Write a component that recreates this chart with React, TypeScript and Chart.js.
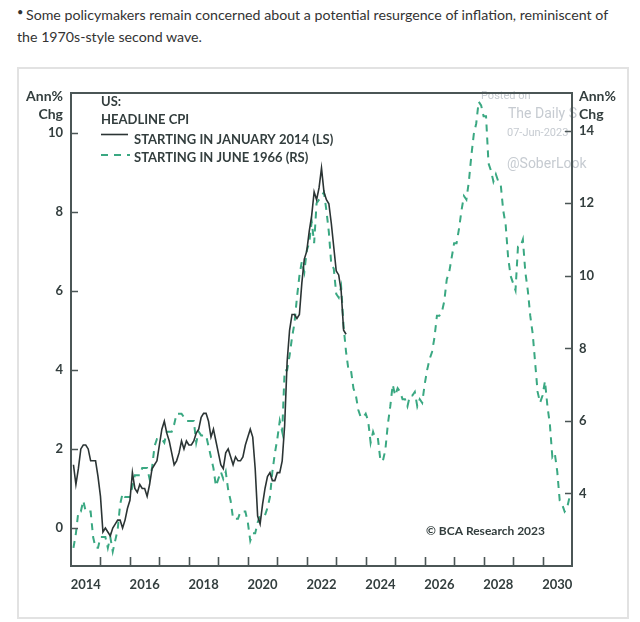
import React, { useEffect, useRef } from "react";
import { Chart, registerables } from "chart.js";

Chart.register(...registerables);

// ---------- DATA ----------
// US headline CPI, annual % change, monthly, starting January 2014 (left scale)
const cpiFrom2014: number[] = [
  1.6, 1.1, 1.5, 2.0, 2.1, 2.1, 2.0, 1.7, 1.7, 1.7, 1.3, 0.8,
  -0.1, 0.0, -0.1, -0.2, 0.0, 0.1, 0.2, 0.2, 0.0, 0.2, 0.5, 0.7,
  1.4, 1.0, 0.9, 1.1, 1.0, 1.0, 0.8, 1.1, 1.5, 1.6, 1.7, 2.1,
  2.5, 2.7, 2.4, 2.2, 1.9, 1.6, 1.7, 1.9, 2.2, 2.0, 2.2, 2.1,
  2.1, 2.2, 2.4, 2.5, 2.8, 2.9, 2.9, 2.7, 2.3, 2.5, 2.2, 1.9,
  1.6, 1.5, 1.9, 2.0, 1.8, 1.6, 1.8, 1.7, 1.7, 1.8, 2.1, 2.3,
  2.5, 2.3, 1.5, 0.3, 0.1, 0.6, 1.0, 1.3, 1.4, 1.2, 1.2, 1.4,
  1.4, 1.7, 2.6, 4.2, 5.0, 5.4, 5.4, 5.3, 5.4, 6.2, 6.8, 7.0,
  7.5, 7.9, 8.5, 8.3, 8.6, 9.1, 8.5, 8.3, 8.2, 7.7, 7.1, 6.5,
  6.4, 6.0, 5.0, 4.9,
];

// US headline CPI, annual % change, monthly, starting June 1966 (right scale)
const cpiFrom1966: number[] = [
  2.5, 2.9, 3.5, 3.5, 3.8, 3.5, 3.5,
  3.5, 2.8, 2.5, 2.5, 2.8, 2.8, 2.8, 2.5, 2.8, 2.4, 2.7, 3.0,
  3.7, 4.0, 3.9, 3.9, 3.9, 4.2, 4.5, 4.5, 4.5, 4.7, 4.7, 4.7,
  4.4, 4.7, 5.3, 5.5, 5.5, 5.5, 5.4, 5.7, 5.7, 5.7, 5.9, 6.2,
  6.2, 6.2, 6.1, 6.0, 6.0, 6.0, 6.0, 5.4, 5.7, 5.6, 5.6, 5.6,
  5.3, 5.0, 4.7, 4.2, 4.4, 4.6, 4.4, 4.6, 4.1, 3.8, 3.3, 3.3,
  3.3, 3.5, 3.5, 3.5, 3.2, 2.7, 2.9, 2.9, 3.2, 3.4, 3.4, 3.4,
  3.6, 3.9, 4.6, 5.1, 5.5, 6.0, 5.7, 7.4, 7.4, 7.8, 8.3, 8.7,
  9.4, 10.0, 10.4, 10.1, 10.7, 10.9, 11.5, 10.9, 12.0, 12.1, 12.2, 12.3,
  11.8, 11.2, 10.3, 10.2, 9.5, 9.4, 9.7, 8.6, 7.9, 7.4, 7.4, 6.9,
  6.7, 6.3, 6.1, 6.1, 6.2, 6.0, 5.4, 5.7, 5.5, 5.5, 4.9, 4.9,
  5.2, 5.9, 6.4, 7.0, 6.7, 6.9, 6.8, 6.6, 6.6, 6.4, 6.7, 6.7,
  6.8, 6.4, 6.6, 6.5, 7.0, 7.4, 7.7, 7.9, 8.3, 8.9, 8.9, 9.0,
  9.3, 9.9, 10.1, 10.5, 10.9, 10.9, 11.3, 11.8, 12.2, 12.1, 12.6, 13.3,
  13.9, 14.2, 14.8, 14.7, 14.4, 14.4, 13.1, 12.9, 12.6, 12.8, 12.6, 12.5,
  11.8, 11.4, 10.5, 10.0, 9.8, 9.6, 10.8, 10.8, 11.0, 10.1, 9.6, 8.9,
  8.4, 7.6, 6.8, 6.5, 6.7, 7.1, 6.4, 5.9, 5.0, 5.1, 4.6, 3.8,
  3.7, 3.5, 3.6, 3.9,
];

const startYear = 2014;
const endYear = 2031;
const leftTicks = [0, 2, 4, 6, 8, 10];
const rightTicks = [4, 6, 8, 10, 12, 14];
const xLabelYears = [2014, 2016, 2018, 2020, 2022, 2024, 2026, 2028, 2030];
const xTickYears = [2015, 2016, 2017, 2018, 2019, 2020, 2021, 2022, 2023, 2024, 2025, 2026, 2027, 2028, 2029, 2030];

const legendTitle = ["US:", "HEADLINE CPI"];
const seriesNames = ["STARTING IN JANUARY 2014 (LS)", "STARTING IN JUNE 1966 (RS)"];

// ---------- STYLE ----------
const AXIS = "#4b5656";
const TEXT = "#333e3e";
const GREEN = "#3aa882";
const BLACK = "#2b3434";
const WATERMARK = "#c6cbd1";
const CHART_FONT = "Lato, 'Open Sans', sans-serif";

const toPoints = (vals: number[]) =>
  vals.map((v, i) => ({ x: startYear + (i + 1) / 12, y: v }));

const overlayPlugin = {
  id: "overlay",
  beforeDatasetsDraw(chart: any) {
    const ctx = chart.ctx as CanvasRenderingContext2D;
    ctx.save();
    ctx.fillStyle = WATERMARK;
    ctx.textBaseline = "middle";
    ctx.textAlign = "left";
    ctx.font = `11px Roboto, Arial, sans-serif`;
    ctx.fillText("Posted on", 481, 96);
    ctx.fillText("07-Jun-2023", 507, 133);
    ctx.font = `14px Roboto, Arial, sans-serif`;
    ctx.save();
    ctx.beginPath();
    ctx.rect(480, 100, 97, 30);
    ctx.clip();
    ctx.fillText("The Daily Shot", 508, 114);
    ctx.restore();
    ctx.fillText("@SoberLook", 507, 164);
    ctx.restore();
  },
  afterDatasetsDraw(chart: any) {
    const ctx = chart.ctx as CanvasRenderingContext2D;
    const { left, right, top, bottom } = chart.chartArea;
    const sx = chart.scales.x;
    const sy = chart.scales.y;
    const sy1 = chart.scales.y1;
    ctx.save();
    // frame
    ctx.strokeStyle = AXIS;
    ctx.lineWidth = 2;
    ctx.strokeRect(left, top, right - left, bottom - top);
    // inward ticks
    ctx.lineWidth = 1.6;
    ctx.beginPath();
    leftTicks.forEach((v) => {
      const y = Math.round(sy.getPixelForValue(v)) + 0.5;
      ctx.moveTo(left, y);
      ctx.lineTo(left + 7, y);
    });
    rightTicks.forEach((v) => {
      const y = Math.round(sy1.getPixelForValue(v)) + 0.5;
      ctx.moveTo(right, y);
      ctx.lineTo(right - 7, y);
    });
    xTickYears.forEach((yr) => {
      const x = Math.round(sx.getPixelForValue(yr)) + 0.5;
      ctx.moveTo(x, bottom);
      ctx.lineTo(x, bottom - 9);
    });
    ctx.stroke();

    // legend
    ctx.fillStyle = TEXT;
    ctx.textBaseline = "middle";
    ctx.textAlign = "left";
    ctx.font = `bold 13px ${CHART_FONT}`;
    ctx.fillText(legendTitle[0], 101, 102);
    ctx.fillText(legendTitle[1], 101, 120);
    ctx.fillText(seriesNames[0], 134, 140);
    ctx.fillText(seriesNames[1], 134, 158);
    ctx.strokeStyle = BLACK;
    ctx.lineWidth = 1.6;
    ctx.beginPath();
    ctx.moveTo(101, 134.5);
    ctx.lineTo(128, 134.5);
    ctx.stroke();
    ctx.strokeStyle = GREEN;
    ctx.lineWidth = 2;
    ctx.setLineDash([7, 6]);
    ctx.beginPath();
    ctx.moveTo(101, 155);
    ctx.lineTo(130, 155);
    ctx.stroke();
    ctx.setLineDash([]);

    // source
    ctx.font = `bold 12px ${CHART_FONT}`;
    ctx.fillText("© BCA Research 2023", 426, 531);

    // axis titles
    ctx.font = `bold 14px ${CHART_FONT}`;
    ctx.textAlign = "right";
    ctx.fillText("Ann%", 63, 96);
    ctx.fillText("Chg", 63, 114);
    ctx.textAlign = "left";
    ctx.fillText("Ann%", 579, 96);
    ctx.fillText("Chg", 579, 114);
    ctx.restore();
  },
};

export default function App() {
  const canvasRef = useRef<HTMLCanvasElement | null>(null);

  useEffect(() => {
    if (!canvasRef.current) return;
    const chart = new Chart(canvasRef.current, {
      type: "line",
      data: {
        datasets: [
          {
            label: seriesNames[0],
            data: toPoints(cpiFrom2014),
            yAxisID: "y",
            borderColor: BLACK,
            borderWidth: 1.6,
            pointRadius: 0,
            tension: 0,
            fill: false,
          },
          {
            label: seriesNames[1],
            data: toPoints(cpiFrom1966),
            yAxisID: "y1",
            borderColor: GREEN,
            borderWidth: 2,
            borderDash: [7, 6],
            pointRadius: 0,
            tension: 0,
            fill: false,
          },
        ],
      },
      options: {
        animation: false,
        responsive: false,
        devicePixelRatio: 1,
        layout: { padding: { top: 93, left: 0, right: 0, bottom: 0 } },
        plugins: {
          legend: { display: false },
          tooltip: { enabled: false },
        },
        scales: {
          x: {
            type: "linear",
            min: startYear,
            max: endYear,
            grid: { display: false, drawTicks: false },
            border: { display: false },
            afterBuildTicks: (axis: any) => {
              axis.ticks = xLabelYears.map((y) => ({ value: y + 0.5 }));
            },
            afterFit: (axis: any) => {
              axis.height = 56;
            },
            ticks: {
              autoSkip: false,
              maxRotation: 0,
              padding: 11,
              color: TEXT,
              font: { family: CHART_FONT, size: 13, weight: "bold" },
              callback: (v: any) => String(Math.floor(Number(v))),
            },
          },
          y: {
            position: "left",
            min: -0.96,
            max: 11,
            grid: { display: false, drawTicks: false },
            border: { display: false },
            afterBuildTicks: (axis: any) => {
              axis.ticks = leftTicks.map((v) => ({ value: v }));
            },
            afterFit: (axis: any) => {
              axis.width = 71;
            },
            ticks: {
              padding: 8,
              color: TEXT,
              font: { family: CHART_FONT, size: 13, weight: "bold" },
            },
          },
          y1: {
            position: "right",
            min: 2,
            max: 15.04,
            grid: { display: false, drawTicks: false },
            border: { display: false },
            afterBuildTicks: (axis: any) => {
              axis.ticks = rightTicks.map((v) => ({ value: v }));
            },
            afterFit: (axis: any) => {
              axis.width = 68;
            },
            ticks: {
              padding: 7,
              color: TEXT,
              font: { family: CHART_FONT, size: 13, weight: "bold" },
            },
          },
        },
      },
      plugins: [overlayPlugin],
    } as any);
    return () => chart.destroy();
  }, []);

  const paraFont = "14.2px Lato, Roboto, sans-serif";

  return (
    <div
      style={{
        position: "absolute",
        left: 0,
        top: 0,
        width: 640,
        height: 622,
        background: "#ffffff",
        overflow: "hidden",
      }}
    >
      <div style={{ position: "absolute", left: 17, top: 4, font: paraFont, color: "#333", lineHeight: "20px", whiteSpace: "nowrap" }}>
        <span style={{ fontSize: 11, position: "relative", top: -3 }}>•</span>
      </div>
      <div style={{ position: "absolute", left: 26, top: 5, font: paraFont, color: "#333", lineHeight: "20px", whiteSpace: "nowrap" }}>
        Some policymakers remain concerned about a potential resurgence of inflation, reminiscent of
      </div>
      <div style={{ position: "absolute", left: 17, top: 27, font: paraFont, color: "#333", lineHeight: "20px", whiteSpace: "nowrap" }}>
        the 1970s-style second wave.
      </div>
      <div
        style={{
          position: "absolute",
          left: 17,
          top: 67,
          width: 608,
          height: 548,
          border: "2px solid #e2e2e2",
        }}
      />
      <canvas
        ref={canvasRef}
        width={640}
        height={622}
        style={{ position: "absolute", left: 0, top: 0, width: 640, height: 622 }}
      />
    </div>
  );
}
